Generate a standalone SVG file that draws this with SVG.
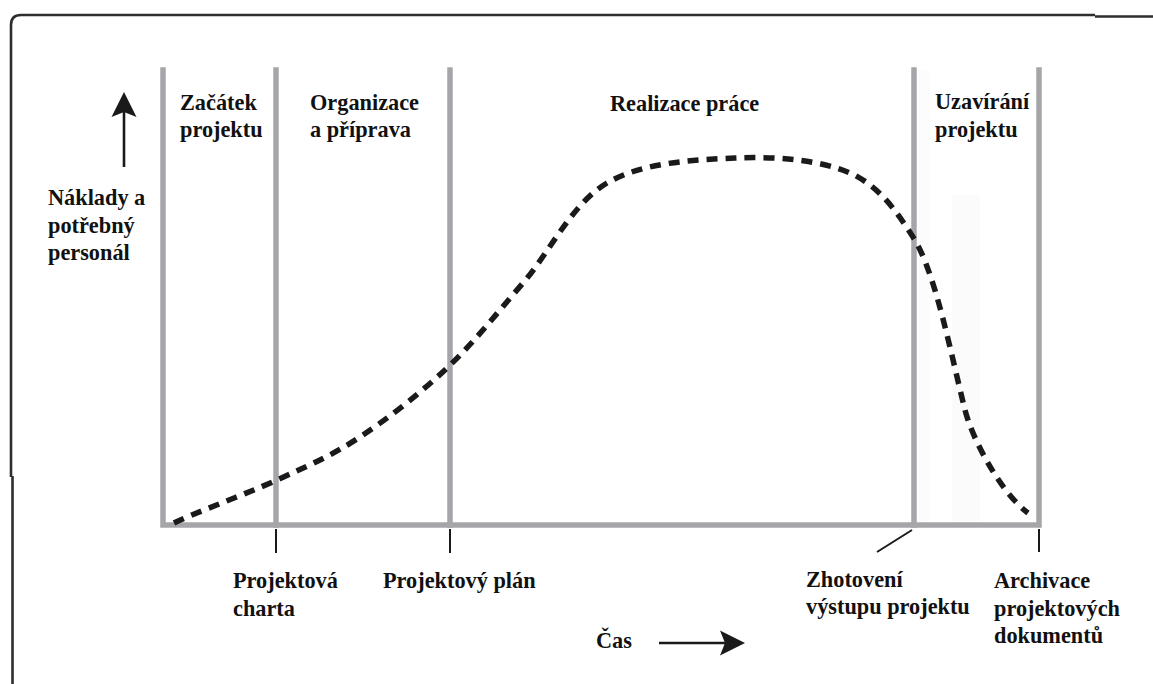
<svg xmlns="http://www.w3.org/2000/svg" width="1153" height="684" viewBox="0 0 1153 684">
  <style>
    .frame { fill: none; stroke: #2e2e2e; stroke-width: 2.6; }
    .phase { fill: none; stroke: #a6a6aa; stroke-width: 5.5; stroke-linecap: square; }
    .tick { fill: none; stroke: #1a1a1a; stroke-width: 2; }
    .axis { fill: none; stroke: #1a1a1a; stroke-width: 2.6; }
    .curve { fill: none; stroke: #1a1a1a; stroke-width: 5.5; stroke-dasharray: 11 8; }
    .lbl { font-family: "Liberation Serif", "Times New Roman", serif; font-weight: bold; font-size: 22.3px; fill: #111; }
  </style>
  <defs>
    <marker id="arrowHead" markerUnits="userSpaceOnUse" viewBox="-26 -13 27 26" markerWidth="27" markerHeight="26" refX="-15" refY="0" orient="auto">
      <path d="M0,0 L-25,-12.5 L-20,0 L-25,12.5 Z" fill="#1a1a1a"/>
    </marker>
  </defs>

  <rect width="1153" height="684" fill="#ffffff"/>

  <!-- outer frame -->
  <path class="frame" d="M12.5,684 L12.5,476 M11,477 L11,25 Q11,15 21,15 L1095,15 M1095,16.5 L1153,16.5"/>

  <!-- faint shading in the closing column -->
  <rect x="918" y="70" width="12" height="451" fill="#fcfcfc"/>
  <rect x="952" y="195" width="28" height="326" fill="#fbfbfb"/>

  <!-- phase grid -->
  <g id="phase-grid">
    <path class="phase" d="M163,70 L163,525 L1039,525 L1039,70"/>
    <path class="phase" d="M276,70 L276,525"/>
    <path class="phase" d="M450,70 L450,525"/>
    <path class="phase" d="M914,70 L914,525"/>
  </g>

  <g id="connectors">
    <!-- milestone ticks -->
    <path class="tick" d="M276,529 L276,553"/>
    <path class="tick" d="M450,529 L450,553"/>
    <path class="tick" d="M912,530 L877,552"/>
    <path class="tick" d="M1039,529 L1039,552"/>
    <!-- axis arrows -->
    <path class="axis" d="M124,167 L124,107" marker-end="url(#arrowHead)"/>
    <path class="axis" d="M659,643 L730,643" marker-end="url(#arrowHead)"/>
  </g>

  <!-- effort curve -->
  <g id="effort-curve">
    <path class="curve" d="M174,523 C189.5,515 245.7,494.2 277,480 C308.3,465.8 331.7,455.7 360,437 C388.3,418.3 419.8,393.7 447,368 C474.2,342.3 496.3,313.8 523,283 C549.7,252.2 571.7,203.8 607,183 C642.3,162.2 694.5,159.7 735,158 C775.5,156.3 820.3,159.8 850,173 C879.7,186.2 896.8,212 913,237 C935,271 950,350 965,410 C972,438 1000,492 1028,513"/>
  </g>

  <!-- phase headings -->
  <g id="phase-start">
    <text class="lbl" x="180" y="110">Začátek</text>
    <text class="lbl" x="180" y="137">projektu</text>
  </g>
  <g id="phase-organisation">
    <text class="lbl" x="310" y="110">Organizace</text>
    <text class="lbl" x="310" y="137">a příprava</text>
  </g>
  <g id="phase-execution">
    <text class="lbl" x="610" y="111">Realizace práce</text>
  </g>
  <g id="phase-closing">
    <text class="lbl" x="935" y="109">Uzavírání</text>
    <text class="lbl" x="935" y="137">projektu</text>
  </g>

  <!-- vertical axis label -->
  <g id="axis-y">
    <text class="lbl" x="48" y="205">Náklady a</text>
    <text class="lbl" x="48" y="233">potřebný</text>
    <text class="lbl" x="48" y="260">personál</text>
  </g>

  <!-- milestones -->
  <g id="milestone-charter">
    <text class="lbl" x="233" y="588">Projektová</text>
    <text class="lbl" x="233" y="616">charta</text>
  </g>
  <g id="milestone-plan">
    <text class="lbl" x="383" y="588">Projektový plán</text>
  </g>
  <g id="milestone-deliverable">
    <text class="lbl" x="806" y="587">Zhotovení</text>
    <text class="lbl" x="806" y="614">výstupu projektu</text>
  </g>
  <g id="milestone-archive">
    <text class="lbl" x="994" y="588">Archivace</text>
    <text class="lbl" x="994" y="616">projektových</text>
    <text class="lbl" x="994" y="643">dokumentů</text>
  </g>

  <!-- horizontal axis label -->
  <g id="axis-x">
    <text class="lbl" x="596" y="648">Čas</text>
  </g>
</svg>
